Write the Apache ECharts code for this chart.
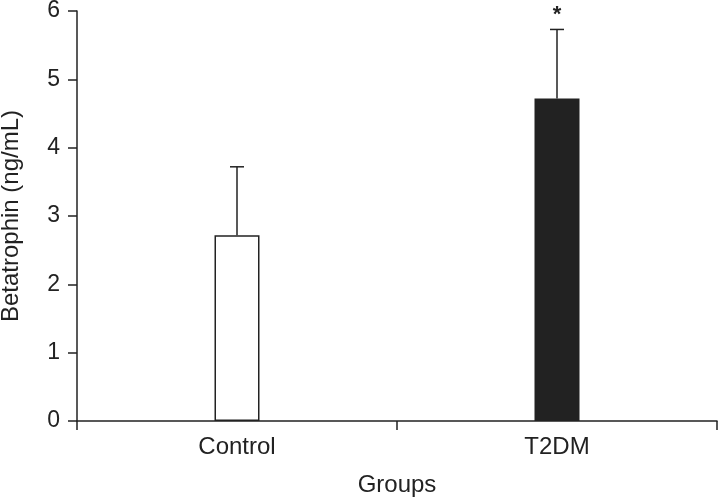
<!DOCTYPE html>
<html>
<head>
<meta charset="utf-8">
<script src="https://cdn.jsdelivr.net/npm/echarts@6/dist/echarts.min.js"></script>
<style>
html,body{margin:0;padding:0;background:#fff;}
#chart{width:718px;height:498px;}
</style>
</head>
<body>
<div id="chart"></div>
<script>
var categories = ['Control', 'T2DM'];
var means = [2.72, 4.72];
var sds = [1.0, 1.01];
var marks = ['', '*'];
var yTicks = [0, 1, 2, 3, 4, 5, 6];

var chart = echarts.init(document.getElementById('chart'), null, {renderer: 'canvas'});
var FONT = '"Liberation Sans", Arial, sans-serif';
var INK = '#222';

var barData = means.map(function (v, i) {
  return {
    value: v,
    itemStyle: i === 0
      ? {color: '#fff', borderColor: INK, borderWidth: 1.5}
      : {color: INK, borderColor: INK, borderWidth: 1.5}
  };
});
var errData = means.map(function (v, i) { return [i, v, sds[i]]; });

chart.setOption({
  animation: false,
  grid: {left: 77, right: 1, top: 11, bottom: 77, containLabel: false, outerBoundsMode: 'none'},
  xAxis: {
    type: 'category',
    data: categories,
    name: 'Groups',
    nameLocation: 'middle',
    nameGap: 52,
    nameTextStyle: {fontFamily: FONT, fontSize: 24, color: INK},
    axisLine: {lineStyle: {color: INK, width: 1.5}},
    axisTick: {show: true, length: 9, lineStyle: {color: INK, width: 1.5}},
    axisLabel: {fontFamily: FONT, fontSize: 24, color: INK, margin: 14},
    splitLine: {show: false}
  },
  yAxis: {
    type: 'value',
    min: yTicks[0],
    max: yTicks[yTicks.length - 1],
    interval: 1,
    name: 'Betatrophin (ng/mL)',
    nameLocation: 'middle',
    nameGap: 54,
    nameTextStyle: {fontFamily: FONT, fontSize: 24, color: INK},
    axisLine: {show: true, lineStyle: {color: INK, width: 1.5}},
    axisTick: {show: true, length: 9, lineStyle: {color: INK, width: 1.5}},
    axisLabel: {fontFamily: FONT, fontSize: 23, color: INK, margin: 17},
    splitLine: {show: false}
  },
  series: [
    {
      type: 'bar',
      data: barData,
      barWidth: 45,
      z: 2
    },
    {
      type: 'custom',
      z: 3,
      data: errData,
      renderItem: function (params, api) {
        var idx = api.value(0);
        var m = api.value(1);
        var s = api.value(2);
        var base = api.coord([idx, m]);
        var top = api.coord([idx, m + s]);
        var half = 7;
        var style = {stroke: INK, lineWidth: 1.5};
        var children = [
          {type: 'line', shape: {x1: base[0], y1: base[1], x2: top[0], y2: top[1]}, style: style},
          {type: 'line', shape: {x1: top[0] - half, y1: top[1], x2: top[0] + half, y2: top[1]}, style: style}
        ];
        var mk = marks[params.dataIndex];
        if (mk) {
          children.push({
            type: 'text',
            style: {
              text: mk, x: top[0], y: top[1] - 15,
              fill: INK, font: 'bold 22px ' + FONT,
              align: 'center', verticalAlign: 'middle'
            }
          });
        }
        return {type: 'group', children: children};
      }
    }
  ]
});
</script>
</body>
</html>
